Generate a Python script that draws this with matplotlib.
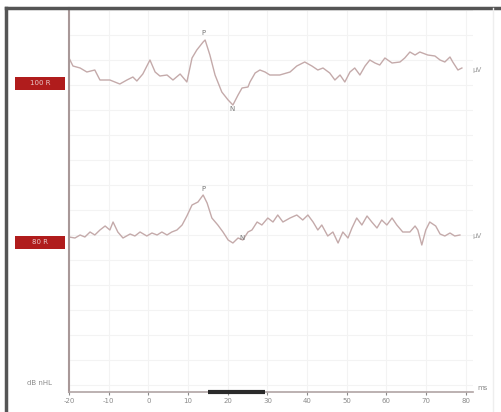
import numpy as np
import matplotlib.pyplot as plt
from matplotlib.lines import Line2D
from matplotlib.patches import Rectangle

# latenssit (ms) ja kayrien pystypaikat (luettu kuvasta, ylhaalta alas)
t_upper = [-20.0, -19.0, -17.2, -15.5, -13.5, -12.2, -9.7, -7.2, -5.4, -3.9,
           -2.9, -1.4, 0.4, 1.7, 2.9, 4.7, 6.2, 8.0, 9.7, 11.0,
           12.2, 13.8, 14.3, 15.5, 16.8, 18.5, 20.1, 21.3, 22.6, 23.6,
           25.1, 25.6, 26.9, 28.1, 29.4, 30.6, 33.1, 35.7, 37.4, 39.4,
           41.2, 42.7, 44.0, 45.7, 47.0, 48.3, 49.5, 50.8, 52.0, 53.3,
           54.6, 55.8, 57.1, 58.3, 59.6, 61.4, 63.4, 64.6, 65.9, 67.2,
           68.4, 70.4, 72.2, 73.5, 74.7, 76.0, 76.7, 78.0, 79.0]
y_upper = [58, 66, 68, 72, 70, 80, 80, 84, 80, 77,
           81, 74, 60, 72, 76, 75, 80, 74, 82, 58,
           50, 42, 40, 55, 75, 92, 100, 105, 95, 88,
           87, 82, 73, 70, 72, 75, 75, 72, 66, 62,
           66, 70, 68, 73, 80, 75, 82, 72, 68, 75,
           66, 60, 63, 65, 58, 63, 62, 58, 52, 55,
           52, 55, 56, 60, 62, 57, 62, 70, 68]

t_lower = [-20.0, -18.5, -17.2, -16.0, -14.7, -13.5, -12.2, -10.9, -9.7, -8.9,
           -7.7, -6.4, -4.6, -3.4, -2.1, -0.4, 0.9, 2.2, 3.4, 4.7,
           5.9, 7.2, 8.5, 9.7, 11.0, 12.5, 13.8, 14.8, 16.0, 17.5,
           18.8, 20.1, 21.3, 22.6, 23.8, 25.1, 26.1, 27.4, 28.6, 30.1,
           31.4, 32.6, 33.9, 35.7, 37.4, 38.9, 40.2, 41.5, 42.7, 43.7,
           45.2, 46.5, 47.8, 49.0, 50.3, 51.3, 52.5, 53.8, 55.1, 56.3,
           57.6, 58.8, 60.1, 61.4, 62.6, 64.1, 65.9, 67.2, 67.9, 68.9,
           69.9, 70.9, 72.4, 73.5, 74.7, 76.0, 77.2, 78.5]
y_lower = [237, 238, 235, 237, 232, 235, 230, 226, 230, 222,
           232, 238, 234, 236, 232, 236, 233, 235, 232, 235,
           232, 230, 225, 216, 205, 202, 195, 203, 218, 225,
           232, 240, 243, 238, 240, 232, 230, 222, 225, 218,
           222, 215, 222, 218, 215, 220, 215, 222, 230, 225,
           236, 232, 243, 232, 238, 228, 218, 225, 216, 222,
           228, 220, 225, 218, 225, 232, 232, 226, 230, 245,
           230, 222, 226, 234, 236, 233, 236, 235]

levels = ['100 R', '80 R']
level_y = [83, 242]
end_y = [70, 236]

# piikit: (latenssi, paikka, nimi)
peaks_upper = [(14.0, 33, 'P'), (21.0, 109, 'N')]
peaks_lower = [(14.0, 189, 'P'), (23.5, 238, 'N')]

stim = [15.0, 29.5]
xticks = np.arange(-20, 90, 10)

trace_col = '#c4aaaa'
gray = '#8a8a8a'

fig = plt.figure(figsize=(5.02, 4.12), dpi=100)
ax = fig.add_axes([69/502, 1 - 392/412, 404/502, 384/412])

ax.plot(t_upper, y_upper, color=trace_col, lw=1.0)
ax.plot(t_lower, y_lower, color=trace_col, lw=1.0)

for t, y, name in peaks_upper + peaks_lower:
    ax.text(t, y, name, fontsize=5, color='#777777', ha='center', va='center')

ax.set_xlim(-20, 81.8)
ax.set_ylim(392, 8)
ax.set_xticks(xticks)
ax.set_xticklabels([str(v) for v in xticks])
ax.set_yticks(np.arange(10, 392, 25))
ax.set_yticklabels([])
ax.tick_params(axis='x', labelsize=5, colors=gray, length=2, pad=2)
ax.tick_params(axis='y', length=0)
ax.grid(True, color='#f3f3f3', lw=0.8)

for s in ['top', 'right']:
    ax.spines[s].set_visible(False)
ax.spines['left'].set_color('#a89898')
ax.spines['left'].set_linewidth(1.5)
ax.spines['bottom'].set_color('#b0a4a4')
ax.spines['bottom'].set_linewidth(1.2)

# arsykejakso x-akselilla
ax.plot(stim, [392, 392], color='#2a2a2a', lw=3, solid_capstyle='butt',
        clip_on=False, zorder=5)

# tasot vasemmalla punaisissa laatikoissa
for lab, y in zip(levels, level_y):
    fig.add_artist(Rectangle((15/502, 1 - (y + 6.5)/412), 50/502, 13/412,
                             transform=fig.transFigure, fc='#b01c1c', ec='none'))
    fig.text(40/502, 1 - y/412, lab, fontsize=5, color='#e8c8c8', ha='center', va='center')

for y in end_y:
    fig.text(477/502, 1 - y/412, 'µV', fontsize=5, color='#999999', ha='center', va='center')

fig.text(40/502, 1 - 383/412, 'dB nHL', fontsize=5, color=gray, ha='center', va='center')
fig.text(483/502, 1 - 388/412, 'ms', fontsize=5, color=gray, ha='center', va='center')

# kehys
fig.add_artist(Line2D([6/502, 1], [1 - 8/412, 1 - 8/412], color='#555555', lw=2.5))
fig.add_artist(Line2D([6/502, 6/502], [0, 1 - 8/412], color='#555555', lw=2.5))
fig.add_artist(Line2D([493/502, 493/502], [0, 1 - 8/412], color='#eeeeee', lw=1))

plt.savefig('out.png')
